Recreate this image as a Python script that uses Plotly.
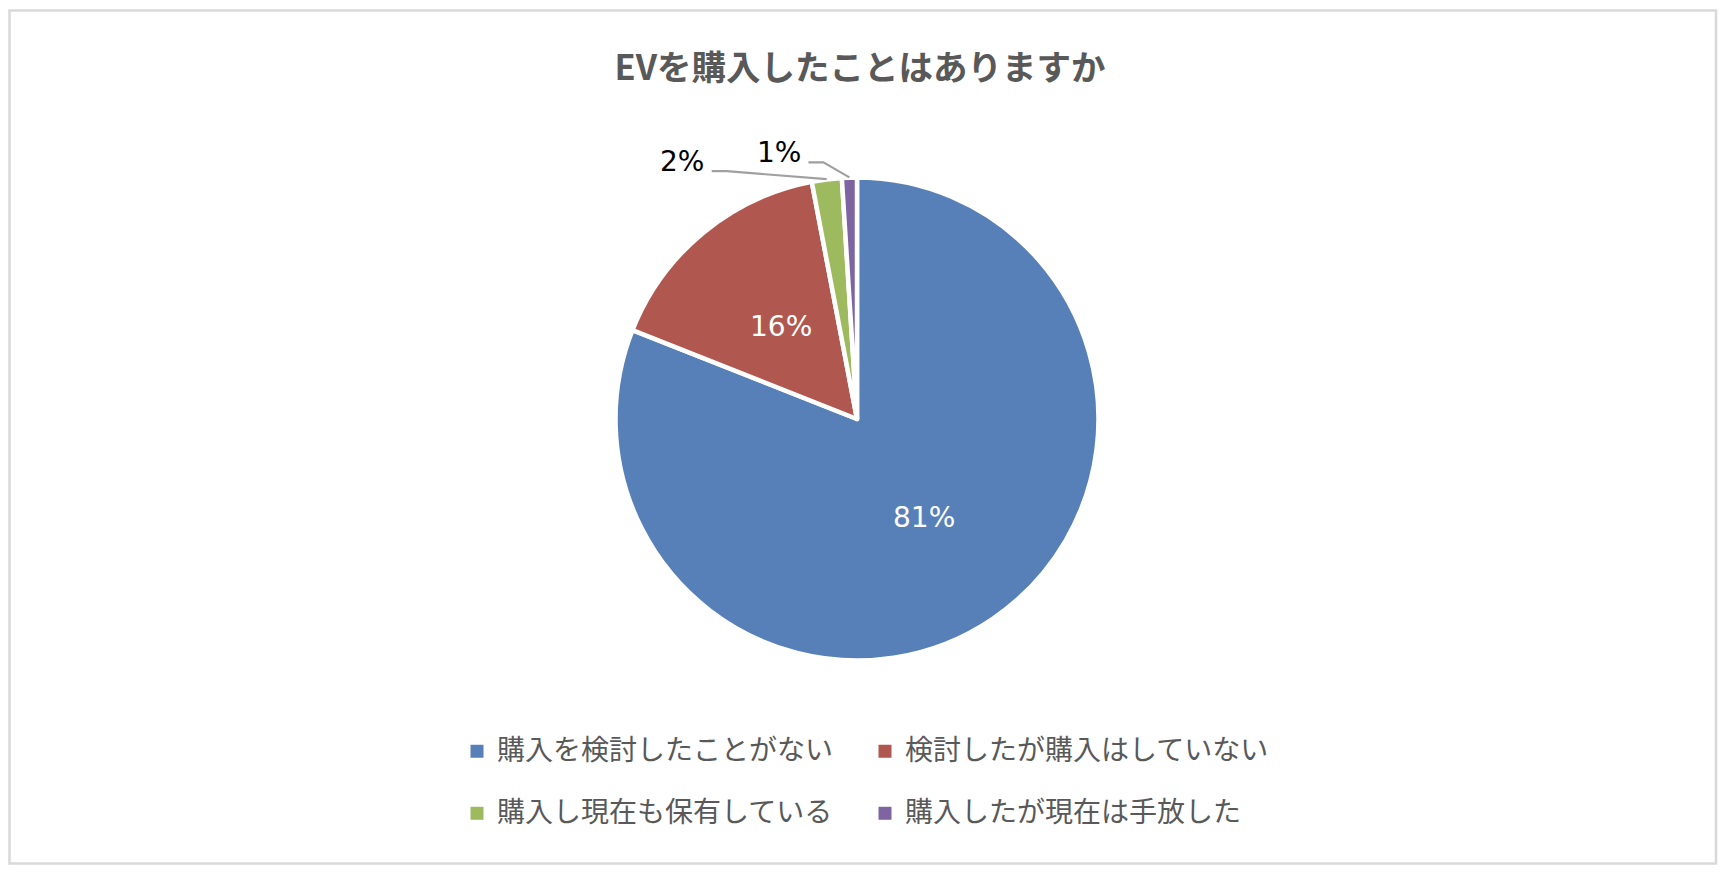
import math
import plotly.graph_objects as go

# ---- data ----
categories = ["購入を検討したことがない", "検討したが購入はしていない",
              "購入し現在も保有している", "購入したが現在は手放した"]
values = [81, 16, 2, 1]
title_text = "EVを購入したことはありますか"

# ---- style ----
colors = ["#5880B8", "#B0574F", "#9DBB5E", "#7E64A0"]
W, H = 1728, 876
ML, MR = 400, 400
PW = W - ML - MR

def px(x):
    return (x - ML) / PW

def py(y):
    return 1 - y / H

CX, CY, R = 857, 419, 241.5
LW = 4.5
R_VIS = R - LW / 2
inside = [True, True, False, False]
out_style = {2: dict(elbow=(-100, -8), run=15, label=(-30, -10)),
             3: dict(elbow=(-26, -15), run=15, label=(-29, -10))}

fig = go.Figure(go.Pie(
    labels=categories,
    values=values, sort=False, direction="clockwise", rotation=0,
    marker=dict(colors=colors, line=dict(color="white", width=LW)),
    textinfo="none", hoverinfo="label+percent", showlegend=False,
    domain=dict(x=[px(CX - R), px(CX + R)], y=[py(CY + R), py(CY - R)]),
))

# legend entries (one per category, same colours as the slices)
for c, col in zip(categories, colors):
    fig.add_trace(go.Scatter(
        x=[None], y=[None], mode="markers",
        marker=dict(symbol="square", size=13, color=col),
        name=f"<span style='font-size:28px'>{c}</span><br> ",
        showlegend=True, hoverinfo="skip"))

total = sum(values)
cum = 0
for i, v in enumerate(values):
    mid = 2 * math.pi * (cum + v / 2) / total
    cum += v
    sx, sy = math.sin(mid), -math.cos(mid)
    pct = f"{round(100 * v / total)}%"
    if inside[i]:
        x, y = CX + 0.5 * R_VIS * sx, CY + 0.5 * R_VIS * sy
        fig.add_annotation(x=px(x), y=py(y), xref="paper", yref="paper", text=pct,
                           showarrow=False, xanchor="center", yanchor="middle",
                           font=dict(color="white", size=28, family="DejaVu Sans"))
    else:
        st = out_style[i]
        ex, ey = CX + (R_VIS + 2.5) * sx, CY + (R_VIS + 2.5) * sy
        bx, by = ex + st["elbow"][0], ey + st["elbow"][1]
        ax, ay = bx - st["run"], by
        lx, ly = ax + st["label"][0], ay + st["label"][1]
        fig.add_shape(type="path", xref="paper", yref="paper",
                      path=f"M {px(ax)} {py(ay)} L {px(bx)} {py(by)} L {px(ex)} {py(ey)}",
                      line=dict(color="#A0A0A0", width=2.2))
        fig.add_annotation(x=px(lx), y=py(ly), xref="paper", yref="paper", text=pct,
                           showarrow=False, xanchor="center", yanchor="middle",
                           font=dict(color="black", size=28, family="DejaVu Sans"))

# chart border
fig.add_shape(type="rect", xref="paper", yref="paper",
              x0=px(9.5), x1=px(1716), y0=py(863.5), y1=py(10.5),
              line=dict(color="#D9D9D9", width=2.5), layer="above")

fig.update_layout(
    width=W, height=H,
    margin=dict(l=ML, r=MR, t=0, b=0),
    paper_bgcolor="white", plot_bgcolor="rgba(0,0,0,0)",
    xaxis=dict(visible=False), yaxis=dict(visible=False),
    title=dict(text=f"<b>{title_text}</b>", xref="container", yref="container",
               x=860 / W, y=1 - 68 / H, xanchor="center", yanchor="middle",
               font=dict(family="Noto Sans CJK JP", size=34.5, color="#595959")),
    legend=dict(orientation="h", x=px(457), y=py(730), xanchor="left", yanchor="top",
                entrywidth=363, valign="top", traceorder="normal",
                bgcolor="rgba(0,0,0,0)",
                font=dict(family="Noto Sans CJK JP", size=22.7, color="#595959")),
    showlegend=True,
)

fig.write_html("out.html")
